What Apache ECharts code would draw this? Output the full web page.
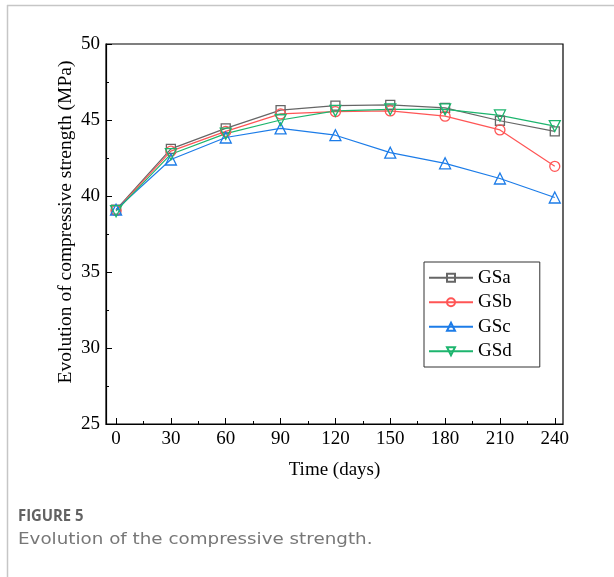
<!DOCTYPE html>
<html>
<head>
<meta charset="utf-8">
<script src="https://cdn.jsdelivr.net/npm/echarts@6/dist/echarts.min.js"></script>
<style>
  html, body { margin: 0; padding: 0; background: #fff; }
  #chart { width: 614px; height: 577px; }
</style>
</head>
<body>
<div id="chart"></div>
<script>
// Curing age (days) and compressive strength (MPa) of the four mixes
const days = [0, 30, 60, 90, 120, 150, 180, 210, 240];
const GSa = [39.1, 43.1, 44.45, 45.65, 45.95, 46.0, 45.8, 44.95, 44.25];
const GSb = [39.05, 42.95, 44.25, 45.4, 45.55, 45.6, 45.25, 44.35, 41.95];
const GSc = [39.1, 42.4, 43.85, 44.45, 44.0, 42.85, 42.15, 41.15, 39.9];
const GSd = [39.0, 42.75, 44.1, 45.0, 45.6, 45.7, 45.7, 45.3, 44.6];

const xTicks = [0, 30, 60, 90, 120, 150, 180, 210, 240];
const xMinorTicks = [15, 45, 75, 105, 135, 165, 195, 225];
const yMinorTicks = [27.5, 32.5, 37.5, 42.5, 47.5];

const serif = "'Liberation Serif', 'Times New Roman', serif";

function pairs(vals) {
  return days.map((d, i) => [d, vals[i]]);
}

function makeSeries(name, vals, color, symbol, rotate, size) {
  return {
    name: name,
    type: 'line',
    data: pairs(vals),
    symbol: symbol,
    symbolSize: size,
    symbolRotate: rotate,
    lineStyle: { color: color, width: 1.2 },
    itemStyle: { color: 'rgba(255,255,255,0)', borderColor: color, borderWidth: 1.3 },
    emphasis: { disabled: true },
    z: 3
  };
}

const chart = echarts.init(document.getElementById('chart'));
chart.setOption({
  animation: false,
  backgroundColor: '#fff',
  grid: {
    left: 106, top: 44, right: 51, bottom: 153,
    show: true, borderColor: '#000', borderWidth: 1.2, backgroundColor: 'transparent'
  },
  legend: {
    orient: 'vertical',
    left: 424, top: 262,
    padding: [6, 28, 6, 4],
    itemGap: 5,
    itemWidth: 44,
    itemHeight: 10,
    borderColor: '#333',
    borderWidth: 1,
    textStyle: { fontFamily: serif, fontSize: 19, color: '#000', lineHeight: 19.5 },
    data: ['GSa', 'GSb', 'GSc', 'GSd']
  },
  xAxis: [{
    type: 'value',
    min: -5.5, max: 244.5,
    name: 'Time (days)',
    nameLocation: 'middle',
    nameGap: 37,
    nameTextStyle: { fontFamily: serif, fontSize: 19, color: '#000' },
    axisLine: { show: true, onZero: false, lineStyle: { color: '#000', width: 1.2 } },
    axisTick: { show: true, inside: true, length: 6, customValues: xTicks, lineStyle: { color: '#000' } },
    axisLabel: { customValues: xTicks, fontFamily: serif, fontSize: 19, color: '#000', margin: 6 },
    splitLine: { show: false }
  }, {
    // minor ticks along the time axis
    type: 'value',
    position: 'bottom',
    min: -5.5, max: 244.5,
    axisLine: { show: false, onZero: false },
    axisTick: { show: true, inside: true, length: 3, customValues: xMinorTicks, lineStyle: { color: '#000' } },
    axisLabel: { show: false },
    splitLine: { show: false }
  }],
  yAxis: [{
    type: 'value',
    min: 25, max: 50, interval: 5,
    axisLine: { show: true, onZero: false, lineStyle: { color: '#000', width: 1.2 } },
    axisTick: { show: true, inside: true, length: 6, lineStyle: { color: '#000' } },
    axisLabel: { fontFamily: serif, fontSize: 19, color: '#000', margin: 6 },
    splitLine: { show: false }
  }, {
    // minor ticks along the strength axis
    type: 'value',
    position: 'left',
    min: 25, max: 50,
    axisLine: { show: false, onZero: false },
    axisTick: { show: true, inside: true, length: 3, customValues: yMinorTicks, lineStyle: { color: '#000' } },
    axisLabel: { show: false },
    splitLine: { show: false }
  }],
  series: [
    makeSeries('GSa', GSa, '#666666', 'rect', 0, 9),
    makeSeries('GSb', GSb, '#ff5555', 'circle', 0, 10),
    makeSeries('GSc', GSc, '#1c7ce8', 'triangle', 0, 11),
    makeSeries('GSd', GSd, '#1db56e', 'triangle', 180, 11)
  ],
  graphic: [
    { type: 'line', shape: { x1: 7.5, y1: 5, x2: 7.5, y2: 577 }, style: { stroke: '#c6c6c6', lineWidth: 1.5 } },
    { type: 'line', shape: { x1: 7, y1: 5.5, x2: 614, y2: 5.5 }, style: { stroke: '#c6c6c6', lineWidth: 1.5 } },
    {
      type: 'text', x: 66, y: 222, rotation: Math.PI / 2,
      style: {
        text: 'Evolution of compressive strength (MPa)',
        font: "19.5px 'Liberation Serif', 'Times New Roman', serif",
        fill: '#000', align: 'center', verticalAlign: 'middle'
      }
    },
    { type: 'text', x: 18, y: 508, scaleX: 0.9, style: { text: 'FIGURE 5', font: "bold 16.5px 'Open Sans', sans-serif", fill: '#636363' } },
    { type: 'text', x: 18, y: 533, scaleX: 1.22, style: { text: 'Evolution of the compressive strength.', font: "15px 'DejaVu Sans', sans-serif", fill: '#777' } }
  ]
});
</script>
</body>
</html>
